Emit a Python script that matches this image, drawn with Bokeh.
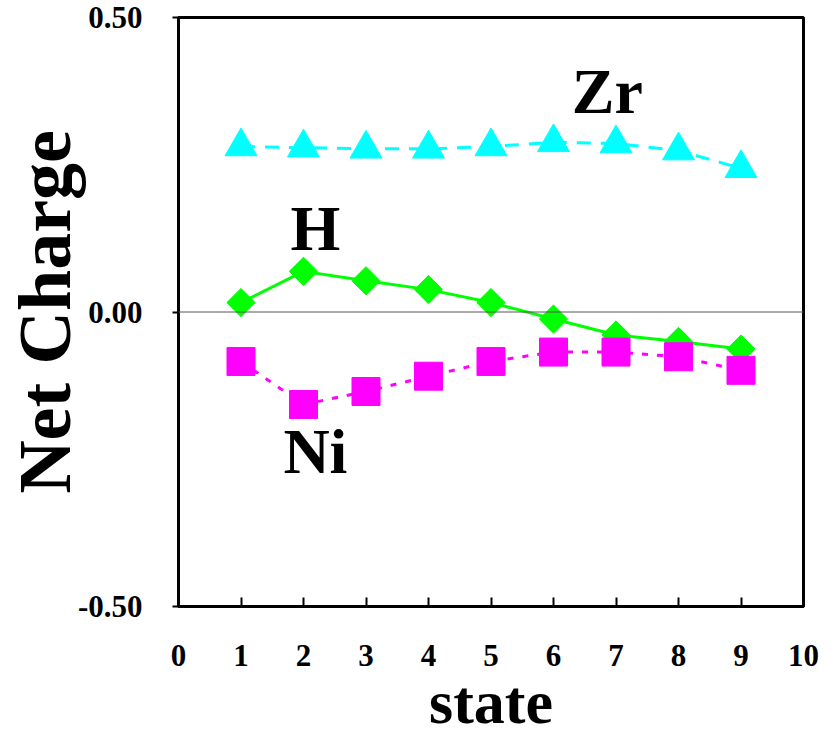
import math
from bokeh.plotting import figure
from bokeh.models import Range1d, FixedTicker, NumeralTickFormatter, Span, Label
from bokeh.embed import file_html
from bokeh.resources import INLINE

states = [1, 2, 3, 4, 5, 6, 7, 8, 9]
zr = [0.281, 0.279, 0.277, 0.277, 0.281, 0.288, 0.286, 0.274, 0.244]
h = [0.016, 0.069, 0.053, 0.038, 0.016, -0.012, -0.039, -0.050, -0.063]
ni = [-0.084, -0.157, -0.135, -0.109, -0.084, -0.068, -0.068, -0.076, -0.099]
x_ticks = [0, 1, 2, 3, 4, 5, 6, 7, 8, 9, 10]
y_ticks = [-0.5, 0.0, 0.5]

FONT = "Liberation Serif"

p = figure(frame_width=625, frame_height=589, output_backend="svg", toolbar_location=None,
           x_range=Range1d(0, 10), y_range=Range1d(-0.5, 0.5),
           min_border_left=173, min_border_right=24, min_border_top=17, min_border_bottom=129)
p.grid.visible = False
p.outline_line_color = "black"
p.outline_line_width = 3
p.background_fill_color = "white"
p.border_fill_color = "white"

# axes
xa = p.xaxis[0]
xa.ticker = FixedTicker(ticks=x_ticks)
xa.axis_line_width = 3
xa.major_tick_in = 9
xa.major_tick_out = 0
xa.major_tick_line_width = 2
xa.minor_tick_line_color = None
xa.major_label_standoff = 38
xa.major_label_text_font = FONT
xa.major_label_text_font_style = "bold"
xa.major_label_text_font_size = "31px"
xa.major_label_text_color = "black"
xa.axis_label = "state"
xa.axis_label_text_font = FONT
xa.axis_label_text_font_style = "bold"
xa.axis_label_text_font_size = "62px"
xa.axis_label_text_color = "black"
xa.axis_label_standoff = -1

ya = p.yaxis[0]
ya.ticker = FixedTicker(ticks=y_ticks)
ya.formatter = NumeralTickFormatter(format="0.00")
ya.axis_line_width = 3
ya.major_tick_in = 0
ya.major_tick_out = 6
ya.major_tick_line_width = 2
ya.minor_tick_line_color = None
ya.major_label_standoff = 30
ya.major_label_text_font = FONT
ya.major_label_text_font_style = "bold"
ya.major_label_text_font_size = "31px"
ya.major_label_text_color = "black"
ya.axis_label = "Net Charge"
ya.axis_label_text_font = FONT
ya.axis_label_text_font_style = "bold"
ya.axis_label_text_font_size = "74px"
ya.axis_label_text_color = "black"
ya.axis_label_standoff = -11

p.add_layout(Span(location=0, dimension="width", line_color="#555555", line_width=1))

# series
p.line(states, zr, line_color="#00FFFF", line_width=3, line_dash="14 10")
p.scatter(states, zr, marker="triangle", size=32, fill_color="#00FFFF", line_color="#00FFFF")

p.line(states, h, line_color="#00FF00", line_width=3)
p.scatter(states, h, marker="square", size=20, angle=math.pi / 4,
          fill_color="#00FF00", line_color="#00FF00")

p.line(states, ni, line_color="#FF00FF", line_width=3, line_dash="6 9")
p.scatter(states, ni, marker="square", size=28, fill_color="#FF00FF", line_color="#FF00FF")

for txt, x, y in [("Zr", 6.86, 0.374), ("H", 2.19, 0.141), ("Ni", 2.19, -0.237)]:
    p.add_layout(Label(x=x, y=y, text=txt, text_font=FONT, text_font_style="bold",
                       text_font_size="64px", text_color="black",
                       text_align="center", text_baseline="middle"))

open("out.html", "w").write(file_html(p, INLINE))
